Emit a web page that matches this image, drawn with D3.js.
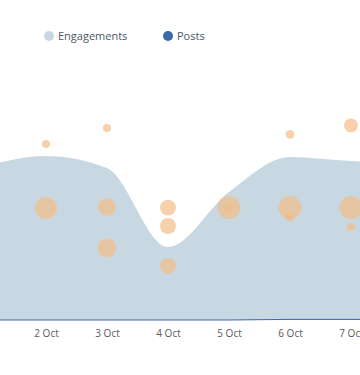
<!DOCTYPE html>
<html><head><meta charset="utf-8">
<script src="https://cdn.jsdelivr.net/npm/d3@7"></script>
<style>html,body{margin:0;padding:0;background:#fff;overflow:hidden}svg{display:block;font-family:"Open Sans",sans-serif}</style>
</head><body><div id="chart"></div>
<script>
const dates = ["2023-10-01","2023-10-02","2023-10-03","2023-10-04","2023-10-05","2023-10-06","2023-10-07","2023-10-08"];
const tickDates = ["2023-10-02","2023-10-03","2023-10-04","2023-10-05","2023-10-06","2023-10-07"];
const engagements = [770, 820, 760, 365, 640, 815, 795, 785];
const posts = [0, 0, 0, 0, 0, 3, 3, 2];
const bubbleDates = ["2023-10-02","2023-10-02","2023-10-03","2023-10-03","2023-10-03","2023-10-04","2023-10-04","2023-10-04","2023-10-05","2023-10-05","2023-10-06","2023-10-06","2023-10-06","2023-10-07","2023-10-07","2023-10-07"];
const bubbleValues = [880, 560, 960, 565, 360, 562, 470, 270, 562, 560, 928, 562, 514, 972, 562, 466];
const bubbleSizes = [11, 84, 11, 56, 63, 44, 44, 44, 92, 11, 13, 92, 11, 34, 92, 11];
const legendLabels = ["Engagements", "Posts"];
const colors = ["#c8d8e2", "#3a6aa8"];

const W = 360, H = 375;
const parse = d3.timeParse("%Y-%m-%d");
const svg = d3.select("#chart").append("svg").attr("width", W).attr("height", H);

const x = d3.scaleTime().domain([parse(dates[0]), parse(dates[dates.length-1])]).range([-15, 412]);
const y = d3.scaleLinear().domain([0, 1000]).range([320, 120]);
const r = d3.scaleSqrt().domain([0, 100]).range([0, 12]);

const eng = dates.map((d,i)=>({d:parse(d), v:engagements[i]}));
const pst = dates.map((d,i)=>({d:parse(d), v:posts[i]}));

svg.append("path").datum(eng)
  .attr("fill", colors[0])
  .attr("d", d3.area().curve(d3.curveMonotoneX).x(p=>x(p.d)).y0(y(0)).y1(p=>y(p.v)));

svg.append("path").datum(pst)
  .attr("fill", "none").attr("stroke", colors[1]).attr("stroke-width", 1)
  .attr("d", d3.line().curve(d3.curveMonotoneX).x(p=>x(p.d)).y(p=>y(p.v)));

const bub = bubbleDates.map((d,i)=>({d:parse(d), v:bubbleValues[i], s:bubbleSizes[i]}));
svg.append("g").selectAll("circle").data(bub).join("circle")
  .attr("cx", b=>x(b.d)).attr("cy", b=>y(b.v)).attr("r", b=>r(b.s))
  .attr("fill", "#f2bd88").attr("fill-opacity", 0.7);

const xAxis = d3.axisBottom(x).tickValues(tickDates.map(parse)).tickFormat(d3.timeFormat("%-d %b")).tickSize(0).tickPadding(10);
const gx = svg.append("g").attr("transform", `translate(0,${y(0)})`).call(xAxis);
gx.select(".domain").remove();
gx.selectAll("text").attr("fill", "#5a5a5a").style("font-size", "10px").style("font-family", "'Open Sans',sans-serif");

const legX = [49, 168];
const leg = svg.append("g");
legendLabels.forEach((t,i)=>{
  leg.append("circle").attr("cx", legX[i]).attr("cy", 36).attr("r", 5).attr("fill", colors[i]);
  leg.append("text").attr("x", legX[i]+9).attr("y", 40).text(t)
    .attr("fill", "#4a5968").style("font-size", "11px");
});
</script></body></html>
